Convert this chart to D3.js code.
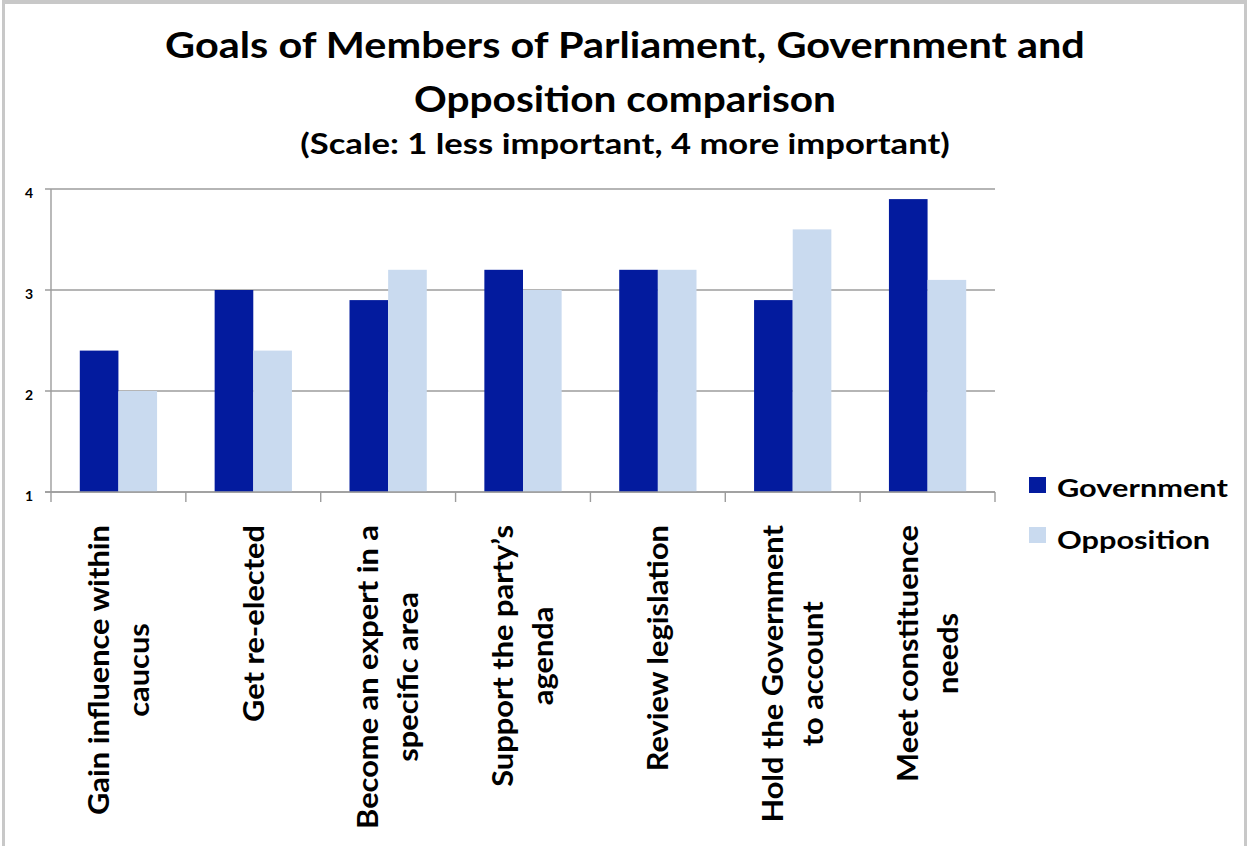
<!DOCTYPE html>
<html><head><meta charset="utf-8">
<script src="https://cdn.jsdelivr.net/npm/d3@7"></script>
<style>
body{margin:0;background:#fff}
svg{display:block}
text{font-family:Lato,'Open Sans',sans-serif;font-weight:bold;fill:#000}
</style>
</head><body><svg id="c" width="1248" height="846"></svg>
<script>
const categories = [
  ["Gain influence within","caucus"],
  ["Get re-elected"],
  ["Become an expert in a","specific area"],
  ["Support the party\u2019s","agenda"],
  ["Review legislation"],
  ["Hold the Government","to account"],
  ["Meet constituence","needs"]
];
const seriesNames = ["Government","Opposition"];
const government = [2.4,3.0,2.9,3.2,3.2,2.9,3.9];
const opposition = [2.0,2.4,3.2,3.0,3.2,3.6,3.1];
const yTicks = [1,2,3,4];
const titleLines = ["Goals of Members of Parliament, Government and","Opposition comparison"];
const subtitle = "(Scale: 1 less important, 4 more important)";
const colors = {Government:"#031B9E", Opposition:"#C9DAEF"};

(function(){
const svg = d3.select("#c");
const W = 1248, H = 846;
const pLeft = 51, pRight = 995, pTop = 189, pBottom = 492;
const keys = categories.map(c => c.join(" "));

// frame
svg.append("line").attr("x1",2).attr("x2",1246).attr("y1",2).attr("y2",2).attr("stroke","#c8c8c8").attr("stroke-width",4);
svg.append("line").attr("x1",3.5).attr("x2",3.5).attr("y1",0).attr("y2",H).attr("stroke","#c8c8c8").attr("stroke-width",3);
svg.append("line").attr("x1",1245.5).attr("x2",1245.5).attr("y1",0).attr("y2",H).attr("stroke","#c8c8c8").attr("stroke-width",3);

const x = d3.scaleBand().domain(keys).range([pLeft,pRight]).paddingInner(0).paddingOuter(0);
const x1 = d3.scaleBand().domain(seriesNames).range([0,x.bandwidth()]).paddingInner(0).paddingOuter(0.745);
const y = d3.scaleLinear().domain([1,4]).range([pBottom,pTop]);

// gridlines
svg.append("g").selectAll("line").data(yTicks).join("line")
  .attr("x1",pLeft-6).attr("x2",pRight)
  .attr("y1",d=>y(d)).attr("y2",d=>y(d))
  .attr("stroke","#9c9c9c").attr("stroke-width",1.4);

// bars
const data = keys.map((k,i)=>({k, vals:[{s:"Government",v:government[i]},{s:"Opposition",v:opposition[i]}]}));
svg.append("g").selectAll("g").data(data).join("g")
  .attr("transform",d=>`translate(${x(d.k)},0)`)
  .selectAll("rect").data(d=>d.vals).join("rect")
  .attr("x",d=>x1(d.s)).attr("width",x1.bandwidth())
  .attr("y",d=>y(d.v)).attr("height",d=>y(1)-y(d.v))
  .attr("fill",d=>colors[d.s]);

// axes
svg.append("line").attr("x1",pLeft).attr("x2",pLeft).attr("y1",pTop).attr("y2",pBottom+10).attr("stroke","#9c9c9c").attr("stroke-width",1.4);
svg.append("line").attr("x1",pLeft-6).attr("x2",pRight).attr("y1",pBottom).attr("y2",pBottom).attr("stroke","#9c9c9c").attr("stroke-width",1.4);
const bounds = keys.map(k=>x(k)+x.bandwidth());
svg.append("g").selectAll("line").data(bounds).join("line")
  .attr("x1",d=>d).attr("x2",d=>d).attr("y1",pBottom).attr("y2",pBottom+10)
  .attr("stroke","#9c9c9c").attr("stroke-width",1.4);

// y tick labels
svg.append("g").selectAll("text").data(yTicks).join("text")
  .attr("x",33).attr("y",d=>y(d)+8.5).attr("text-anchor","end")
  .style("font-size","14px").text(d=>d);

function fit(sel, target){
  const n = sel.node().getComputedTextLength();
  return target / n;
}

// titles
const tSizes = [36,36,28.5];
const tTexts = [titleLines[0], titleLines[1], subtitle];
const tBase = [58,112,154];
const tWidth = [920,422,650];
tTexts.forEach((t,i)=>{
  const el = svg.append("text").attr("text-anchor","middle").style("font-size",tSizes[i]+"px").text(t);
  const k = fit(el, tWidth[i]);
  el.attr("transform",`translate(625,${tBase[i]}) scale(${k},1)`);
});

// x labels
const lblSize = 28.5, lineH = 40, labelTop = 525;
const probe = svg.append("text").style("font-size",lblSize+"px").text(categories[0][0]);
const kx = fit(probe, 290);
probe.remove();
categories.forEach((lines,i)=>{
  const cx = x(keys[i]) + x.bandwidth()/2;
  const grp = svg.append("g");
  const els = lines.map(l=>grp.append("text").attr("text-anchor","middle").style("font-size",lblSize+"px").text(l));
  const maxLen = d3.max(els, e=>e.node().getComputedTextLength())*kx;
  const cy = labelTop + maxLen/2;
  const n = lines.length;
  els.forEach((e,j)=>{
    const base = cx + (j - (n-1)/2)*lineH + lblSize*0.36;
    e.attr("transform",`translate(${base},${cy}) rotate(-90) scale(${kx},1)`);
  });
});

// legend
const legY = [477,527], legBase=[497,549];
seriesNames.forEach((s,i)=>{
  svg.append("rect").attr("x",1029).attr("y",legY[i]).attr("width",17).attr("height",16).attr("fill",colors[s]);
});
const lp = svg.append("text").style("font-size","24px").text("Government");
const kl = fit(lp, 171); lp.remove();
seriesNames.forEach((s,i)=>{
  svg.append("text").style("font-size","24px").attr("transform",`translate(1057,${legBase[i]}) scale(${kl},1)`).text(s);
});
})();
</script>
</body></html>
